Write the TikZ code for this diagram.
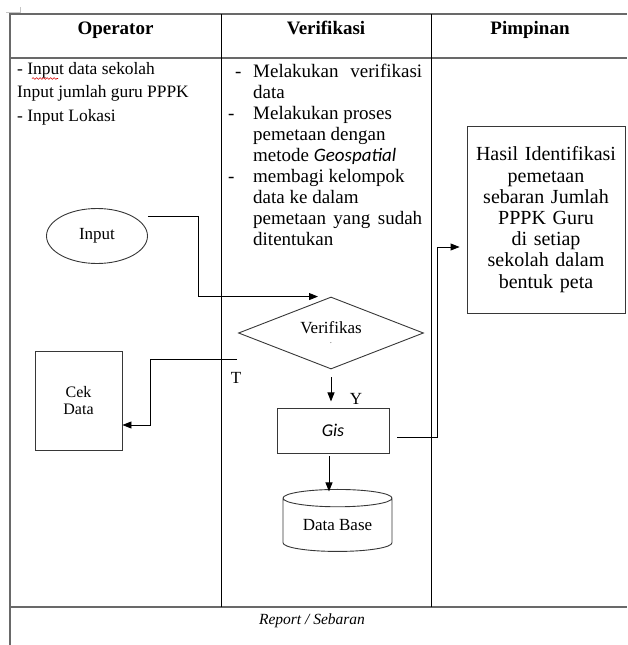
\documentclass[tikz,border=0pt]{standalone}
\usepackage{fontspec}
\setmainfont{Liberation Serif}
\newfontfamily\calibri{Carlito}
\usetikzlibrary{positioning,arrows.meta,calc,shapes.geometric,decorations.pathmorphing}
\definecolor{rulegray}{RGB}{105,105,105}
\definecolor{shapeline}{RGB}{55,55,55}
\tikzset{
  frame/.style={line width=2pt, rulegray},
  lane/.style={line width=0.9pt, black},
  hdr/.style={font=\fontsize{19}{21}\selectfont\bfseries, anchor=base, inner sep=0pt},
  optxt/.style={font=\fontsize{17.4}{23.5}\selectfont, anchor=base west, inner sep=0pt},
  vertxt/.style={font=\fontsize{19}{21}\selectfont, anchor=base west, inner sep=0pt},
  proc/.style={rectangle, draw=shapeline, line width=0.9pt, inner sep=0pt},
  start/.style={ellipse, draw=shapeline, line width=0.9pt, inner sep=0pt,
                minimum width=101pt, minimum height=55pt, font=\fontsize{17}{20}\selectfont},
  decide/.style={diamond, draw=shapeline, line width=0.9pt, inner sep=0pt, aspect=2.57,
                 minimum width=185pt, minimum height=72pt, align=center,
                 font=\fontsize{17}{20}\selectfont},
  store/.style={cylinder, shape border rotate=90, aspect=0.25, draw=shapeline,
                line width=0.9pt, inner sep=0pt, minimum width=109pt, minimum height=62pt,
                font=\fontsize{17}{20}\selectfont},
  lbl/.style={font=\fontsize{17}{20}\selectfont, inner sep=0pt},
  arr/.style={-{Triangle[length=9pt,width=7pt]}, line width=0.9pt, black},
  squig/.style={red!85!black, line width=0.6pt,
                decorate, decoration={snake, segment length=3.5pt, amplitude=0.8pt}}
}

\begin{document}
\begin{tikzpicture}[x=1pt,y=-1pt]
\useasboundingbox (0,0) rectangle (627,645);

% table frame and lanes
\draw[gray!45, line width=0.8pt] (6,12.5) -- (20,12.5) -- (20,7);
\draw[frame] (10,645) -- (10,14) -- (627,14);
\draw[frame] (10,58) -- (627,58);
\draw[frame] (10,607) -- (627,607);
\foreach \x in {221,431}
  \draw[lane] (\x,14) -- (\x,607);

% headers
\node[hdr] (hop) at (115.5,34) {Operator};
\node[hdr] (hver) at (326,34) {Verifikasi};
\node[hdr] (hpim) at (530,34) {Pimpinan};

% tasks per lane
\node[optxt] (optask) at (17,74) {\parbox[t]{200pt}{- Input data sekolah\\
  Input jumlah guru PPPK\\- Input Lokasi}};
\draw[squig] (32,78.5) -- (58,78.5);

\node[vertxt] (vertask) at (228,77) {\parbox[t]{194pt}{%
  \makebox[25pt][l]{\hspace*{7pt}-}\makebox[169pt][s]{Melakukan verifikasi}\\
  \hspace*{25pt}data\\
  \makebox[25pt][l]{-}Melakukan proses\\
  \hspace*{25pt}pemetaan dengan\\
  \hspace*{25pt}metode {\calibri\itshape Geospatial}\\
  \makebox[25pt][l]{-}membagi kelompok\\
  \hspace*{25pt}data ke dalam\\
  \hspace*{25pt}\makebox[169pt][s]{pemetaan yang sudah}\\
  \hspace*{25pt}ditentukan}};

% flow
\node[start] (inp) at (97,236) {Input};
\node[decide] (ver) at (331,333) {Verifikas\\[-10pt]{\scriptsize .}};
\node[proc, minimum width=87pt, minimum height=99pt, align=center,
      font=\fontsize{16}{17}\selectfont] (cek) at (78.5,400.5) {Cek\\Data};
\node[proc, minimum width=112pt, minimum height=45pt,
      font=\calibri\itshape\fontsize{18}{20}\selectfont] (gis) at (333,430.5) {Gis};
\node[store] (db) at (337.5,525) {Data Base};
\node[proc, minimum width=158pt, minimum height=187pt, text width=154pt, align=center,
      font=\fontsize{20}{21.2}\selectfont] (hasil) at (546,219.5)
  {Hasil Identifikasi\\pemetaan\\sebaran Jumlah\\PPPK Guru\\di setiap\\sekolah dalam\\bentuk peta};

\node[lbl] (tlbl) at (236,378) {T};
\node[lbl] (ylbl) at (356,399) {Y};

\draw[arr] ($(inp.east)+(0,-20)$) -- ++(50,0) |- ($(ver.north)+(-13,0)$);
\draw[arr] ($(ver.west)+(-1,26)$) -- ++(-87,0) |- ($(cek.east)+(0,24.5)$);
\draw[arr] ($(ver.south)+(0,8)$) -- ++(0,24);
\draw[arr] ($(gis.south)+(-4,3)$) -- ++(0,35);
\draw[arr] ($(gis.east)+(8,6.5)$) -- ++(40,0) |- ($(hasil.west)+(-7,27.5)$);

% bottom row
\node[font=\fontsize{15.5}{18}\selectfont\itshape, anchor=base] (rep) at (312,624)
  {Report / Sebaran};
\end{tikzpicture}
\end{document}
